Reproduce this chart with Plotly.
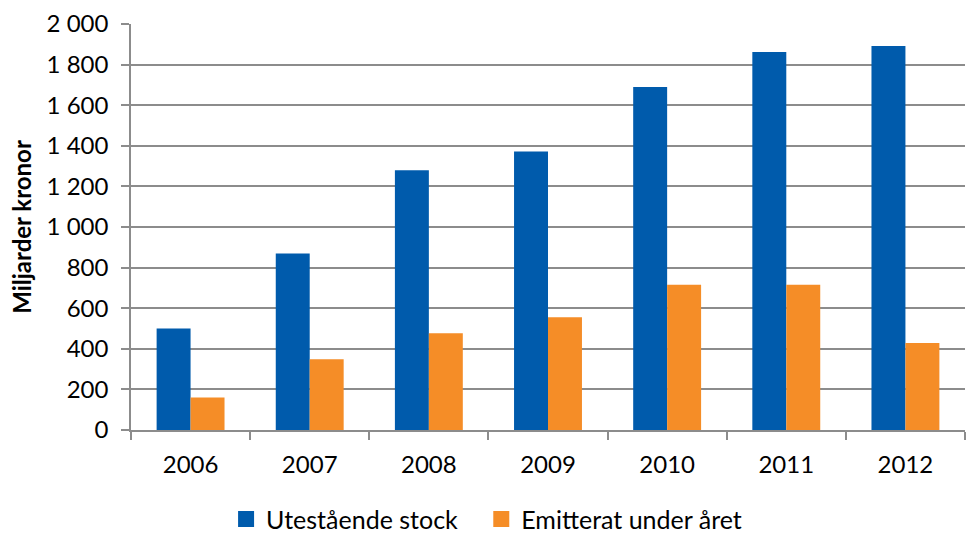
import plotly.graph_objects as go

years = ["2006", "2007", "2008", "2009", "2010", "2011", "2012"]
outstanding = [500, 870, 1280, 1372, 1690, 1862, 1892]
issued = [160, 348, 476, 556, 716, 716, 428]

series_names = ["Utestående stock", "Emitterat under året"]
colors = ["#005BAC", "#F58D27"]
y_title = "Miljarder kronor"

fig = go.Figure()
for vals, name, col in zip([outstanding, issued], series_names, colors):
    fig.add_trace(go.Bar(x=years, y=vals, name=name, showlegend=False,
                         legendgroup=name,
                         marker=dict(color=col, line=dict(width=0))))
# square legend keys, one legend box per series so each can be placed
legend_ids = ["legend", "legend2"]
for name, col, lg in zip(series_names, colors, legend_ids):
    fig.add_trace(go.Scatter(x=[None], y=[None], mode="markers", name=name,
                             legendgroup=name, legend=lg,
                             marker=dict(symbol="square", size=16, color=col)))

grid = "#8C8C8C"
fs = 24
legend_common = dict(orientation="h", xanchor="left",
                     yref="container", y=0.026, yanchor="middle",
                     itemwidth=30, font=dict(size=25))
fig.update_layout(
    width=966, height=533,
    margin=dict(l=131, r=1, t=24, b=103, autoexpand=False),
    paper_bgcolor="white", plot_bgcolor="white",
    barmode="group", bargap=0.43, bargroupgap=0,
    separators=", ",
    font=dict(family="Lato, Open Sans, sans-serif", size=fs, color="black"),
    legend=dict(x=0.114, **legend_common),
    legend2=dict(x=0.42, **legend_common),
    xaxis=dict(type="category", showline=True, linecolor=grid, linewidth=1.5,
               ticks="outside", tickson="boundaries", ticklen=8, tickcolor=grid,
               tickwidth=1.5, ticklabelstandoff=12, showgrid=False),
    yaxis=dict(range=[0, 2000], dtick=200, tickformat=",d",
               showline=True, linecolor=grid, linewidth=1.5,
               showgrid=True, gridcolor=grid, gridwidth=1.5,
               ticks="outside", ticklen=8, tickcolor=grid, tickwidth=1.5,
               ticklabelstandoff=8, zeroline=False,
               title=dict(text="<b>" + y_title + "</b>", standoff=8,
                          font=dict(size=fs))),
)

fig.write_html("out.html")
